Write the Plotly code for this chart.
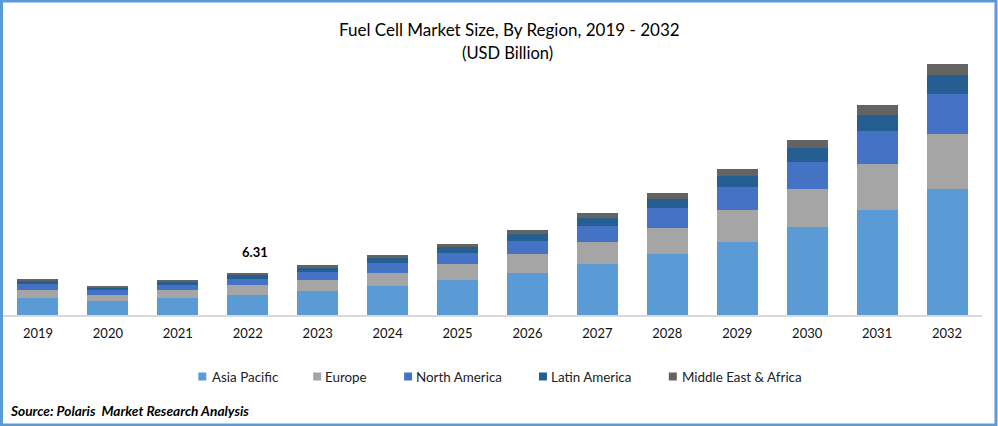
import plotly.graph_objects as go

years = [str(y) for y in range(2019, 2033)]
asia_pacific = [2.55, 2.1, 2.55, 3.0, 3.6, 4.35, 5.25, 6.3, 7.65, 9.15, 10.95, 13.2, 15.75, 18.9]
europe = [1.2, 0.9, 1.2, 1.5, 1.65, 1.95, 2.4, 2.85, 3.3, 3.9, 4.8, 5.7, 6.9, 8.25]
north_america = [0.9, 0.75, 0.75, 0.9, 1.2, 1.5, 1.65, 1.95, 2.4, 3.0, 3.45, 4.05, 4.95, 6.0]
latin_america = [0.45, 0.4, 0.45, 0.6, 0.6, 0.75, 0.9, 1.05, 1.2, 1.35, 1.7, 2.15, 2.4, 2.85]
middle_east = [0.3, 0.2, 0.3, 0.31, 0.45, 0.45, 0.45, 0.6, 0.75, 0.9, 1.0, 1.15, 1.5, 1.65]
series = [
    ("Asia Pacific", asia_pacific, "#5B9BD5"),
    ("Europe", europe, "#A5A5A5"),
    ("North America", north_america, "#4472C4"),
    ("Latin America", latin_america, "#255E91"),
    ("Middle East & Africa", middle_east, "#636363"),
]
FONT = "Lato"
W, H = 998, 426
ML, MR, MT, MB = 2.5, 15.5, 60, 111
PW, PH = W - ML - MR, H - MT - MB

def px(x):
    return (x - ML) / PW

def py(y):
    return (H - MB - y) / PH

fig = go.Figure()
for name, vals, col in series:
    fig.add_bar(name=name, x=years, y=vals, marker=dict(color=col, line=dict(width=0)), showlegend=False)

shapes = [dict(type="rect", xref="paper", yref="paper", x0=px(1), x1=px(W - 1.5),
               y0=py(H - 1), y1=py(1), line=dict(color="#5B9BD5", width=3))]
annotations = [
    dict(text="Fuel Cell Market Size, By Region, 2019 - 2032", xref="paper", yref="paper",
         x=px(509.5), y=py(30), yanchor="middle", showarrow=False, font=dict(size=17, color="black")),
    dict(text="(USD Billion)", xref="paper", yref="paper", x=px(507.5), y=py(53), yanchor="middle",
         showarrow=False, font=dict(size=16.5, color="black")),
    dict(text="<b>6.31</b>", x=years.index("2022"), y=6.31, yshift=21, xshift=7, showarrow=False,
         font=dict(size=13, color="black")),
    dict(text="<b><i>Source: Polaris  Market Research Analysis</i></b>", xref="paper", yref="paper",
         x=px(8), y=py(410), xanchor="left", yanchor="middle", showarrow=False,
         font=dict(size=13.7, color="black")),
]
legend_swatch_x = [198, 313, 404, 539, 669]
legend_text_x = [210, 323, 413.5, 549, 680]
for (name, _, col), x, tx in zip(series, legend_swatch_x, legend_text_x):
    shapes.append(dict(type="rect", xref="paper", yref="paper", x0=px(x), x1=px(x + 8),
                       y0=py(380.5), y1=py(372.5), fillcolor=col, line=dict(width=0)))
    annotations.append(dict(text=name, xref="paper", yref="paper", x=px(tx), y=py(376.5),
                            xanchor="left", yanchor="middle", showarrow=False,
                            font=dict(size=13.4, color="#222222")))

fig.update_layout(
    barmode="stack", bargap=0.414, width=W, height=H, autosize=False,
    margin=dict(l=ML, r=MR, t=MT, b=MB, pad=0),
    paper_bgcolor="white", plot_bgcolor="white",
    font=dict(family=FONT, size=13, color="#111111"),
    xaxis=dict(type="category", range=[-0.5, 13.5], automargin=False, showline=True,
               linecolor="#D9D9D9", linewidth=1.5, ticks="",
               tickfont=dict(size=13, color="#111111"), ticklabelstandoff=6),
    yaxis=dict(range=[0, PH * 0.15], visible=False),
    shapes=shapes,
    annotations=annotations,
)
fig.write_html("out.html", config=dict(displayModeBar=False), post_script="document.body.style.margin='0';")
